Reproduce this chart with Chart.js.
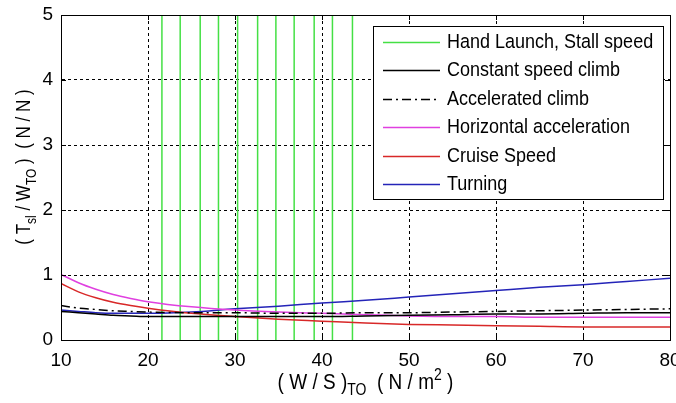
<!DOCTYPE html>
<html>
<head>
<meta charset="utf-8">
<script src="https://cdn.jsdelivr.net/npm/chart.js@4/dist/chart.umd.min.js"></script>
<style>
  html, body { margin: 0; padding: 0; background: #fff; }
  #wrap { width: 676px; height: 403px; position: relative; }
</style>
</head>
<body>
<div id="wrap"><canvas id="constraintChart"></canvas></div>
<script>
// wing loading (W/S)_TO, N/m^2
const wingLoading = [10, 12, 14, 16, 18, 20, 25, 30, 35, 40, 45, 50, 55, 60, 65, 70, 75, 80];

// thrust to weight (T_sl / W_TO) for each constraint
const constantClimb = [0.44, 0.42, 0.40, 0.38, 0.37, 0.36, 0.36, 0.36, 0.36, 0.36, 0.37, 0.38, 0.39, 0.40, 0.40, 0.41, 0.42, 0.42];
const acceleratedClimb = [0.53, 0.49, 0.47, 0.45, 0.44, 0.43, 0.42, 0.42, 0.41, 0.41, 0.42, 0.42, 0.43, 0.44, 0.45, 0.46, 0.47, 0.48];
const horizontalAccel = [1.01, 0.88, 0.78, 0.70, 0.64, 0.59, 0.51, 0.46, 0.43, 0.41, 0.39, 0.37, 0.36, 0.36, 0.35, 0.35, 0.35, 0.35];
const cruiseSpeed = [0.87, 0.74, 0.65, 0.58, 0.53, 0.49, 0.41, 0.36, 0.32, 0.29, 0.26, 0.24, 0.23, 0.22, 0.21, 0.20, 0.20, 0.20];
const turning = [0.46, 0.44, 0.42, 0.41, 0.41, 0.41, 0.43, 0.48, 0.52, 0.57, 0.61, 0.66, 0.71, 0.76, 0.81, 0.85, 0.90, 0.95];

// hand launch / stall speed limits (vertical lines)
const stallLimits = [21.6, 23.7, 26.0, 28.1, 30.3, 32.6, 34.7, 36.8, 39.1, 41.2, 43.5];

const xTicks = [10, 20, 30, 40, 50, 60, 70, 80];
const yTicks = [0, 1, 2, 3, 4, 5];

const FONT = '"Liberation Sans", Arial, sans-serif';

function pts(ys) {
    return wingLoading.map((x, i) => ({ x: x, y: ys[i] }));
}

let datasets = [];
stallLimits.forEach(function(x, i) {
    datasets.push({
        label: 'Hand Launch, Stall speed',
        data: [{ x: x, y: yTicks[0] }, { x: x, y: yTicks[yTicks.length - 1] }],
        borderColor: '#44e044',
        borderWidth: 1.5,
        pointRadius: 0,
        order: 2,
        inLegend: i === 0
    });
});

function curve(label, ys, color, dash) {
    return {
        label: label,
        data: pts(ys),
        borderColor: color,
        borderWidth: 1.5,
        borderDash: dash || [],
        pointRadius: 0,
        cubicInterpolationMode: 'monotone',
        order: 1,
        inLegend: true
    };
}

datasets.push(curve('Constant speed climb', constantClimb, '#000000'));
datasets.push(curve('Accelerated climb', acceleratedClimb, '#000000', [9, 4, 2, 4]));
datasets.push(curve('Horizontal acceleration', horizontalAccel, '#e040e0'));
datasets.push(curve('Cruise Speed', cruiseSpeed, '#d82828'));
datasets.push(curve('Turning', turning, '#2424b8'));

// MATLAB glyphs look a bit taller than Arial, stretch vertically
function tallText(ctx, t, x, y, size) {
    ctx.save();
    ctx.font = size + 'px ' + FONT;
    ctx.translate(x, y);
    ctx.scale(1, 1.15);
    ctx.fillText(t, 0, 0);
    ctx.restore();
}

// box, inward ticks, legend and axis titles
const matlabLook = {
    id: 'matlabLook',
    afterDraw(chart) {
        const ctx = chart.ctx;
        const a = chart.chartArea;
        const xs = chart.scales.x, ys = chart.scales.y;
        ctx.save();
        ctx.strokeStyle = '#000';
        ctx.lineWidth = 1;
        ctx.setLineDash([]);

        // inward tick marks on all four sides
        ctx.beginPath();
        xTicks.forEach(function(v) {
            const px = Math.round(xs.getPixelForValue(v)) + 0.5;
            ctx.moveTo(px, a.bottom); ctx.lineTo(px, a.bottom - 5);
            ctx.moveTo(px, a.top); ctx.lineTo(px, a.top + 5);
        });
        yTicks.forEach(function(v) {
            const py = Math.round(ys.getPixelForValue(v)) + 0.5;
            ctx.moveTo(a.left, py); ctx.lineTo(a.left + 5, py);
            ctx.moveTo(a.right, py); ctx.lineTo(a.right - 5, py);
        });
        ctx.stroke();

        // legend box
        const items = chart.data.datasets.filter(d => d.inLegend);
        const bx = a.right - 297, by = a.top + 11, bw = 290, bh = 173;
        ctx.fillStyle = '#fff';
        ctx.fillRect(bx, by, bw, bh);
        ctx.strokeRect(bx + 0.5, by + 0.5, bw, bh);
        ctx.textBaseline = 'middle';
        ctx.textAlign = 'left';
        items.forEach(function(d, i) {
            const ly = Math.round(by + 16 + i * 28.4) + 0.5;
            ctx.beginPath();
            ctx.strokeStyle = d.borderColor;
            ctx.lineWidth = d.borderWidth;
            ctx.setLineDash(d.borderDash || []);
            ctx.moveTo(bx + 10, ly);
            ctx.lineTo(bx + 67, ly);
            ctx.stroke();
            ctx.fillStyle = '#000';
            tallText(ctx, d.label, bx + 74, ly, 18);
        });
        ctx.setLineDash([]);

        // plot box
        ctx.strokeStyle = '#000';
        ctx.lineWidth = 1;
        ctx.strokeRect(Math.round(a.left) + 0.5, Math.round(a.top) + 0.5,
            Math.round(a.right - a.left), Math.round(a.bottom - a.top));

        // axis titles with sub/superscripts
        function drawParts(parts, cx, cy, size) {
            const small = Math.round(size * 0.72);
            let total = 0;
            parts.forEach(function(p) {
                ctx.font = (p.s ? small : size) + 'px ' + FONT;
                p.w = ctx.measureText(p.t).width;
                total += p.w;
            });
            let x = cx - total / 2;
            ctx.textAlign = 'left';
            ctx.textBaseline = 'alphabetic';
            parts.forEach(function(p) {
                const dy = p.s === 'sub' ? size * 0.33 : p.s === 'sup' ? -size * 0.48 : 0;
                tallText(ctx, p.t, x, cy + dy, p.s ? small : size);
                x += p.w;
            });
        }
        ctx.fillStyle = '#000';
        drawParts([
            { t: '( W / S )' }, { t: 'TO', s: 'sub' }, { t: '  ( N / m' }, { t: '2', s: 'sup' }, { t: ' )' }
        ], (a.left + a.right) / 2, 389, 19);

        ctx.save();
        ctx.translate(30, 167);
        ctx.rotate(-Math.PI / 2);
        drawParts([
            { t: '( T' }, { t: 'sl', s: 'sub' }, { t: ' / W' }, { t: 'TO', s: 'sub' }, { t: ' )  ( N / N )' }
        ], 0, 0, 17);
        ctx.restore();

        ctx.restore();
    }
};

new Chart(document.getElementById('constraintChart'), {
    type: 'line',
    data: { datasets: datasets },
    options: {
        responsive: true,
        maintainAspectRatio: false,
        animation: false,
        layout: { padding: { top: 15, right: 6, left: 0, bottom: 0 } },
        plugins: {
            legend: { display: false },
            tooltip: { enabled: false }
        },
        scales: {
            x: {
                type: 'linear',
                min: xTicks[0],
                max: xTicks[xTicks.length - 1],
                afterBuildTicks: function(s) { s.ticks = xTicks.map(v => ({ value: v })); },
                afterFit: function(s) { s.height = 63; s.paddingRight = 0; s.paddingLeft = 0; },
                ticks: { color: '#000', padding: 9, maxRotation: 0, font: { family: FONT, size: 19 } },
                grid: { color: '#000', lineWidth: 1, drawTicks: false },
                border: { color: '#000', width: 1, dash: [3, 3] }
            },
            y: {
                type: 'linear',
                min: yTicks[0],
                max: yTicks[yTicks.length - 1],
                afterBuildTicks: function(s) { s.ticks = yTicks.map(v => ({ value: v })); },
                afterFit: function(s) { s.width = 61; s.paddingTop = 0; s.paddingBottom = 0; },
                ticks: { color: '#000', padding: 8, font: { family: FONT, size: 19 } },
                grid: { color: '#000', lineWidth: 1, drawTicks: false },
                border: { color: '#000', width: 1, dash: [3, 3] }
            }
        }
    },
    plugins: [matlabLook]
});
</script>
</body>
</html>
